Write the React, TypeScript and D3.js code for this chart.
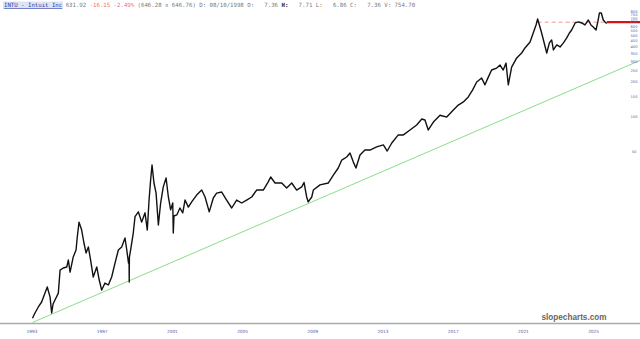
import React from 'react';
import * as d3 from 'd3';

const W = 640;
const H = 339;

// Price history (fractional year, close)
const dates = [
  1993.03, 1993.1, 1993.17, 1993.36, 1993.55, 1993.74, 1993.87, 1994.03, 1994.12, 1994.2,
  1994.31, 1994.5, 1994.6, 1994.78, 1994.98, 1995.07, 1995.17, 1995.35, 1995.51, 1995.58,
  1995.68, 1995.83, 1995.96, 1996.08, 1996.21, 1996.34, 1996.49, 1996.69, 1996.83, 1996.97,
  1997.16, 1997.35, 1997.54, 1997.73, 1997.92, 1998.11, 1998.3, 1998.4, 1998.5, 1998.53,
  1998.54, 1998.55, 1998.62, 1998.77, 1998.87, 1999.06, 1999.25, 1999.44, 1999.57, 1999.67,
  1999.76, 1999.84, 1999.95, 2000.07, 2000.2, 2000.33, 2000.48, 2000.64, 2000.77, 2000.9,
  2001.02, 2001.05, 2001.09, 2001.25, 2001.43, 2001.59, 2001.72, 2001.91, 2002.1, 2002.38,
  2002.67, 2002.86, 2003.1, 2003.33, 2003.52, 2003.81, 2004.09, 2004.38, 2004.66, 2004.95,
  2005.23, 2005.52, 2005.8, 2006.18, 2006.46, 2006.6, 2006.85, 2007.23, 2007.51, 2007.8,
  2008.08, 2008.37, 2008.5, 2008.65, 2008.74, 2008.94, 2009.03, 2009.41, 2009.88, 2010.17,
  2010.45, 2010.65, 2010.93, 2011.12, 2011.31, 2011.46, 2011.69, 2011.97, 2012.26, 2012.64,
  2013.02, 2013.24, 2013.5, 2013.87, 2014.16, 2014.54, 2014.92, 2015.21, 2015.39, 2015.58,
  2015.87, 2016.25, 2016.63, 2017.01, 2017.29, 2017.58, 2017.86, 2018.11, 2018.34, 2018.62,
  2018.81, 2019.0, 2019.19, 2019.48, 2019.67, 2019.85, 2020.01, 2020.14, 2020.33, 2020.62,
  2020.9, 2021.09, 2021.38, 2021.56, 2021.72, 2021.81, 2021.91, 2022.04, 2022.17, 2022.33,
  2022.48, 2022.61, 2022.71, 2022.9, 2023.09, 2023.28, 2023.47, 2023.62, 2023.75, 2023.95,
  2024.13, 2024.32, 2024.51, 2024.7, 2024.85, 2024.98, 2025.14, 2025.24, 2025.33, 2025.44,
  2025.55, 2025.65, 2025.75,
];

const prices = [
  1.85, 1.95, 2.05, 2.31, 2.55, 3.04, 3.43, 2.81, 2.05, 2.45,
  2.65, 3.04, 4.8, 5.0, 5.1, 5.85, 4.61, 6.22, 7.14, 9.23,
  12.4, 10.6, 8.2, 6.73, 7.58, 5.85, 4.18, 5.1, 3.94, 3.23,
  3.71, 3.57, 4.18, 5.51, 7.14, 7.58, 9.05, 7.14, 5.51, 6.0,
  3.79, 6.2, 7.14, 9.99, 13.8, 15.2, 12.4, 14.9, 10.6, 19.2,
  28.6, 38.4, 26.9, 22.0, 11.7, 18.1, 24.9, 29.7, 20.4, 15.8,
  18.1, 10.0, 14.0, 14.3, 16.4, 14.9, 19.2, 16.7, 18.5, 21.2,
  23.4, 20.4, 15.2, 20.0, 22.0, 22.5, 19.2, 16.4, 19.2, 18.1,
  19.2, 20.4, 23.4, 23.4, 27.5, 30.3, 26.9, 26.9, 24.4, 26.9,
  23.4, 24.9, 27.2, 20.4, 18.5, 20.4, 23.4, 25.9, 26.9, 31.5,
  36.2, 42.4, 45.0, 48.7, 40.7, 36.2, 46.8, 51.7, 51.7, 55.0,
  57.2, 50.7, 59.4, 69.7, 69.7, 76.9, 84.9, 95.5, 93.7, 76.9,
  90.0, 103, 99.3, 114, 126, 134, 148, 170, 199, 215,
  188, 219, 252, 262, 278, 252, 289, 188, 267, 320,
  353, 390, 439, 525, 615, 692, 615, 525, 439, 353,
  431, 457, 375, 414, 398, 431, 476, 525, 557, 640,
  653, 640, 615, 679, 615, 591, 557, 653, 779, 779,
  679, 653, 632,
];

const yearTicks = [1993, 1997, 2001, 2005, 2009, 2013, 2017, 2021, 2025];
const priceTicks = [50, 100, 150, 200, 250, 300, 350, 400, 450, 500, 550, 600, 650, 700, 750, 800];

// Trendline anchors (fractional year, price)
const trendDates = [1993.03, 2025.0];
const trendValues = [1.7, 205];

// Horizontal level
const levelValue = 650;
const levelStart = 2021.81;
const levelSolidStart = 2025.75;

// Header
const headerTitle = 'INTU - Intuit Inc';
const headerLast = '631.92';
const headerChange = '-16.15 -2.49%';
const headerBidAsk = '(646.28 x 646.76)';
const headerDate = 'D: 08/10/1998';
const headerOHLC = [
  ['O:', '   7.36'],
  ['H:', '   7.71'],
  ['L:', '   6.86'],
  ['C:', '   7.36'],
];
const headerVolume = 'V: 754.70';

export default function App() {
  const x = d3.scaleLinear().domain([1993, 2025]).range([32, 593.6]);
  const y = d3.scaleLog().domain([100, 1000]).range([116.7, 116.7 - 50.5 * Math.LN10]);

  const pts: [number, number][] = dates.map((d, i) => [d, prices[i]]);
  const line = d3
    .line<[number, number]>()
    .x((d) => x(d[0]))
    .y((d) => y(d[1]));

  const t0 = trendDates[0];
  const slope = (Math.log(trendValues[1]) - Math.log(trendValues[0])) / (trendDates[1] - trendDates[0]);
  const tEnd = x.invert(W);
  const trendEndVal = Math.exp(Math.log(trendValues[0]) + slope * (tEnd - t0));

  const axisY = 323.5;
  const mono = '"DejaVu Sans Mono", "Liberation Mono", monospace';
  const fs = 5.7;

  return (
    <svg
      width={W}
      height={H}
      viewBox={`0 0 ${W} ${H}`}
      style={{ position: 'absolute', left: 0, top: 0, background: '#fff' }}
    >
      <rect x={0} y={0} width={W} height={H} fill="#ffffff" />

      {/* header */}
      <rect x={3} y={1.5} width={60} height={7.5} fill="#dfe3f7" />
      <text x={4} y={7.3} fontFamily={mono} fontSize={fs} style={{ whiteSpace: 'pre' }}>
        <tspan fill="#2b3a9e" textDecoration="underline">{headerTitle}</tspan>
        <tspan fill="#777"> {headerLast} </tspan>
        <tspan fill="#f06a6a">{headerChange}</tspan>
        <tspan fill="#777"> {headerBidAsk} {headerDate} </tspan>
        {headerOHLC.map(([k, v]) => (
          <tspan key={k}>
            <tspan fill={k === 'H:' ? '#222' : '#777'} fontWeight={k === 'H:' ? 'bold' : 'normal'}>
              {k}
            </tspan>
            <tspan fill="#777">{v} </tspan>
          </tspan>
        ))}
        <tspan fill="#777">{headerVolume}</tspan>
      </text>

      {/* trendline */}
      <line
        x1={x(t0)}
        y1={y(trendValues[0])}
        x2={x(tEnd)}
        y2={y(trendEndVal)}
        stroke="#7fd87f"
        strokeWidth={0.9}
      />

      {/* horizontal level */}
      <line
        x1={x(levelStart)}
        x2={x(levelSolidStart)}
        y1={y(levelValue)}
        y2={y(levelValue)}
        stroke="#f08a8a"
        strokeWidth={0.9}
        strokeDasharray="4,3"
      />
      <line
        x1={x(levelSolidStart)}
        x2={W}
        y1={y(levelValue)}
        y2={y(levelValue)}
        stroke="#e01010"
        strokeWidth={2.4}
      />

      {/* price */}
      <path d={line(pts) || ''} fill="none" stroke="#111" strokeWidth={1.4} strokeLinejoin="round" />

      {/* bottom axis */}
      <line x1={0} x2={W} y1={axisY} y2={axisY} stroke="#aaaaaa" strokeWidth={1.3} />
      {yearTicks.map((t) => (
        <text
          key={t}
          x={x(t)}
          y={333}
          textAnchor="middle"
          fontFamily="'DejaVu Sans', sans-serif"
          fontSize={4.3}
          fill="#5a5aa8"
        >
          {t}
        </text>
      ))}

      {/* right axis */}
      {priceTicks.map((p) => (
        <text
          key={p}
          x={634}
          y={y(p) + 1.3}
          textAnchor="middle"
          fontFamily="'DejaVu Sans', sans-serif"
          fontSize={3.6}
          fill="#5a5aa8"
        >
          {p}
        </text>
      ))}

      {/* watermark */}
      <text
        x={574}
        y={320}
        textAnchor="middle"
        fontFamily="'Liberation Sans', Arial, sans-serif"
        fontWeight="bold"
        fontSize={8.2}
        fill="#666"
      >
        slopecharts.com
      </text>
    </svg>
  );
}
